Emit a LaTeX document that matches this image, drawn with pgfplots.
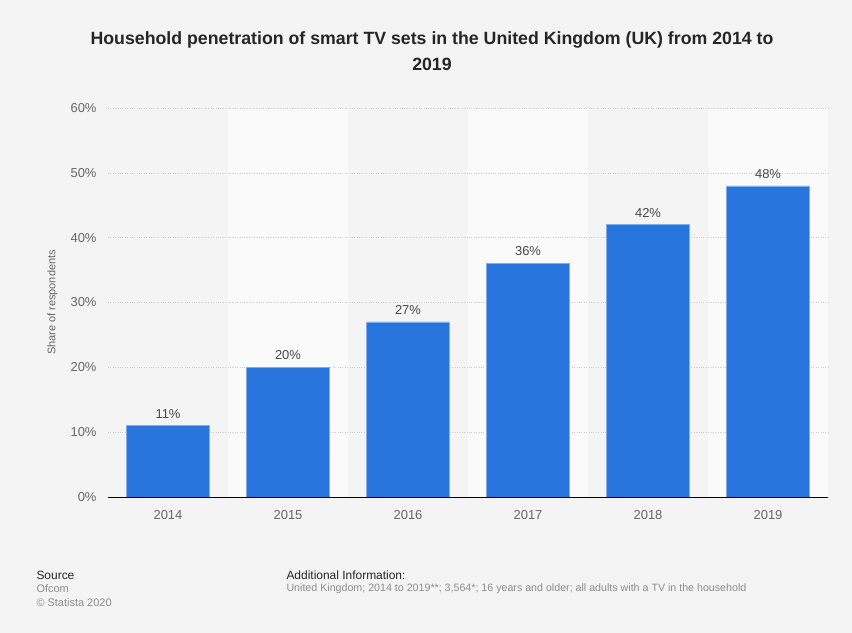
\documentclass[border=0pt]{standalone}
\usepackage{pgfplots}
\pgfplotsset{compat=1.18}
\usepackage{fontspec}
\setmainfont{Liberation Sans}
\definecolor{bg}{HTML}{F4F4F4}
\definecolor{band}{HTML}{FAFAFA}
\definecolor{barc}{HTML}{2876DD}
\definecolor{tickc}{HTML}{666666}
\definecolor{gridc}{HTML}{CCCCCC}
\begin{document}
\begin{tikzpicture}[x=1bp,y=1bp]
\fill[bg] (0,0) rectangle (852,633);
\fill[band] (228,136) rectangle (348,525);
\fill[band] (468,136) rectangle (588,525);
\fill[band] (708,136) rectangle (828,525);
\node[font=\bfseries\fontsize{17.8}{26}\selectfont, text=black!85, align=center] at (432,582) {Household penetration of smart TV sets in the United Kingdom (UK) from 2014 to\\2019};
\begin{axis}[
  at={(108bp,136bp)}, anchor=south west,
  scale only axis, width=720bp, height=389bp,
  xmin=-0.5, xmax=5.5, ymin=0, ymax=60,
  axis line style={draw=none},
  xtick={0,1,2,3,4,5},
  xticklabels={2014,2015,2016,2017,2018,2019},
  ytick={0,10,20,30,40,50,60},
  yticklabel={\pgfmathprintnumber{\tick}\%},
  /pgf/number format/assume math mode=true,
  tick style={draw=none},
  ticklabel style={font=\fontsize{13}{15}\selectfont, text=tickc},
  xticklabel style={yshift=-6bp},
  yticklabel style={xshift=-8bp},
  ymajorgrids, grid style={gridc, dotted},
  ylabel={Share of respondents},
  ylabel style={font=\fontsize{11}{13}\selectfont, text=tickc, yshift=6bp},
  ybar, bar width=83bp,
  nodes near coords={\pgfmathprintnumber{\pgfplotspointmeta}\%},
  nodes near coords style={font=\fontsize{13}{15}\selectfont, text=black!72, yshift=4bp},
  clip=false,
]
\addplot[draw=barc!60, fill=barc] coordinates {(0,11) (1,20) (2,27) (3,36) (4,42) (5,48)};
\draw[black, line width=0.9pt] (axis cs:-0.5,0) -- (axis cs:5.5,0);
\end{axis}
\node[anchor=west, font=\fontsize{12}{14}\selectfont, text=black!85] at (33,58) {Source};
\node[anchor=west, font=\fontsize{11}{13}\selectfont, text=black!45] at (33,44) {Ofcom};
\node[anchor=west, font=\fontsize{11}{13}\selectfont, text=black!45] at (33,30) {\textcopyright\ Statista 2020};
\node[anchor=west, font=\fontsize{12}{14}\selectfont, text=black!85] at (283,58) {Additional Information:};
\node[anchor=west, font=\fontsize{10.7}{13}\selectfont, text=black!45] at (283,44) {United Kingdom; 2014 to 2019**; 3,564*; 16 years and older; all adults with a TV in the household};
\end{tikzpicture}
\end{document}
